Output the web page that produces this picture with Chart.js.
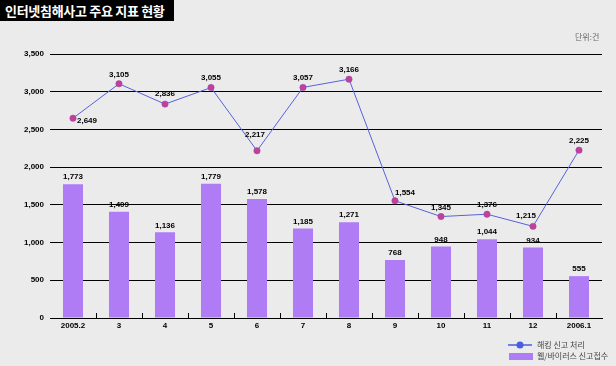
<!DOCTYPE html>
<html><head><meta charset="utf-8">
<script src="https://cdn.jsdelivr.net/npm/chart.js@4/dist/chart.umd.min.js"></script>
<style>
html,body{margin:0;padding:0;background:#ebebeb;width:616px;height:366px;overflow:hidden;}
#wrap{position:relative;width:616px;height:366px;}
#title{position:absolute;left:0;top:0;width:174px;height:21px;background:#000;color:#fff;font:bold 13px "Noto Sans CJK KR",sans-serif;line-height:21px;padding-left:5px;box-sizing:border-box;letter-spacing:-0.3px;white-space:nowrap;}
#unit{position:absolute;left:575px;top:31px;font:8px "Noto Sans CJK KR",sans-serif;color:#666;white-space:nowrap;}
.leg{position:absolute;font:8px "Noto Sans CJK KR",sans-serif;color:#444;white-space:nowrap;}
canvas{position:absolute;left:0;top:0;}
</style></head>
<body><div id="wrap">
<canvas id="c" width="616" height="366"></canvas>
<div id="title">인터넷침해사고 주요 지표 현황</div>
<div id="unit">단위:건</div>
<div class="leg" style="left:537px;top:339px;">해킹 신고 처리</div>
<div class="leg" style="left:537px;top:350px;">웹/바이러스 신고접수</div>
</div>
<script>
const categories = ["2005.2","3","4","5","6","7","8","9","10","11","12","2006.1"];
const hackingReports = [2649,3105,2836,3055,2217,3057,3166,1554,1345,1376,1215,2225];
const virusReports = [1773,1409,1136,1779,1578,1185,1271,768,948,1044,934,555];
const yTicks = [0,500,1000,1500,2000,2500,3000,3500];
const seriesNames = ["해킹 신고 처리","웹/바이러스 신고접수"];

const fmt = v => v.toLocaleString('en-US');
const lineOffsets = [[14,3],[0,-9],[0,-10],[0,-10],[-2,-16],[0,-10],[0,-9],[10,-8],[0,-9],[0,-9],[-7,-11],[0,-9]];

const labelPlugin = {
  id:'labels',
  afterDatasetsDraw(chart){
    const ctx = chart.ctx;
    ctx.save();
    ctx.font = 'bold 8px "Liberation Sans", Arial, sans-serif';
    ctx.fillStyle = '#000';
    ctx.textAlign = 'center';
    ctx.textBaseline = 'middle';
    const barMeta = chart.getDatasetMeta(1);
    barMeta.data.forEach((el,i)=>{
      ctx.fillText(fmt(virusReports[i]), el.x, el.y-7);
    });
    const lineMeta = chart.getDatasetMeta(0);
    lineMeta.data.forEach((el,i)=>{
      const o = lineOffsets[i];
      ctx.fillText(fmt(hackingReports[i]), el.x+o[0], el.y+o[1]);
    });
    ctx.restore();
  },
  beforeDatasetsDraw(chart){
    const ctx = chart.ctx, xs = chart.scales.x, ys = chart.scales.y;
    const y0 = ys.getPixelForValue(0);
    ctx.save();
    ctx.strokeStyle = '#000'; ctx.lineWidth = 1;
    for(let i=0;i<categories.length-1;i++){
      const x = Math.round((xs.getPixelForValue(i)+xs.getPixelForValue(i+1))/2)+0.5;
      ctx.beginPath(); ctx.moveTo(x,y0); ctx.lineTo(x,y0-5); ctx.stroke();
    }
    ctx.restore();
  },
  afterDraw(chart){
    const ctx = chart.ctx;
    ctx.save();
    ctx.strokeStyle = '#4a5ee0'; ctx.lineWidth = 1.5;
    ctx.beginPath(); ctx.moveTo(508,345); ctx.lineTo(532,345); ctx.stroke();
    ctx.fillStyle = '#4a5ee0';
    ctx.beginPath(); ctx.arc(520,345,3.5,0,Math.PI*2); ctx.fill();
    ctx.fillStyle = '#b07cf6';
    ctx.fillRect(509,353,24,7);
    ctx.restore();
  }
};

new Chart(document.getElementById('c'),{
  data:{
    labels:categories,
    datasets:[
      {type:'line',label:seriesNames[0],data:hackingReports,borderColor:'#5562dc',borderWidth:1,
       pointBackgroundColor:'#c0409a',pointBorderColor:'#9a4aa8',pointBorderWidth:0.5,pointRadius:3.2,tension:0,order:0},
      {type:'bar',label:seriesNames[1],data:virusReports,backgroundColor:'#b07cf6',
       barPercentage:0.435,categoryPercentage:1,order:1}
    ]
  },
  options:{
    responsive:false,animation:false,
    layout:{padding:{top:54,right:14,left:0,bottom:0}},
    plugins:{legend:{display:false},tooltip:{enabled:false}},
    scales:{
      x:{
        grid:{display:false,drawTicks:false},
        border:{display:true,color:'#000',width:1},
        ticks:{color:'#000',font:{family:'"Liberation Sans", Arial, sans-serif',size:8,weight:'bold'},padding:3,maxRotation:0,autoSkip:false},
        afterFit(s){s.height=48;}
      },
      y:{
        min:0,max:3500,
        afterBuildTicks(s){s.ticks=yTicks.map(v=>({value:v}));},
        grid:{color:'#000',lineWidth:1,drawTicks:false},
        border:{display:false},
        ticks:{color:'#000',font:{family:'"Liberation Sans", Arial, sans-serif',size:8,weight:'bold'},padding:6,callback:v=>fmt(v)},
        afterFit(s){s.width=50;}
      }
    }
  },
  plugins:[labelPlugin]
});
</script>
</body></html>
